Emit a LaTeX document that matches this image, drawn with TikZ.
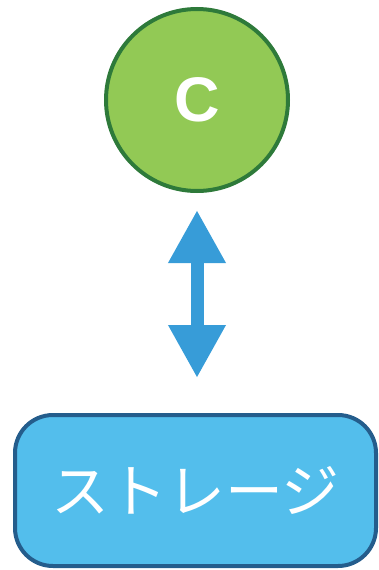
\documentclass[tikz,border=0pt]{standalone}
\usepackage{fontspec}
\setmainfont{Liberation Sans}
\newfontfamily\jpfont{Noto Sans CJK JP}
\usetikzlibrary{arrows.meta}
\definecolor{nodegreen}{HTML}{92C955}
\definecolor{nodegreenedge}{HTML}{2E7A3A}
\definecolor{linkblue}{HTML}{379CD8}
\definecolor{storefill}{HTML}{53BEEC}
\definecolor{storeedge}{HTML}{245D8C}
\tikzset{
  clientnode/.style={circle, draw=nodegreenedge, fill=nodegreen, line width=4pt,
    minimum size=182pt, inner sep=0pt, text=white, font=\bfseries\fontsize{63}{63}\selectfont},
  storenode/.style={rectangle, rounded corners=38pt, draw=storeedge, fill=storefill,
    line width=4pt, minimum width=361pt, minimum height=151pt, inner sep=0pt,
    text=white, font=\jpfont\fontsize{58}{58}\selectfont},
  link/.style={draw=linkblue, line width=13pt,
    {Triangle[width=54pt,length=53pt]}-{Triangle[width=54pt,length=53pt]}}
}
\begin{document}
\begin{tikzpicture}[x=1pt,y=-1pt]
  \useasboundingbox (0,0) rectangle (379,570);
  \node[clientnode] (c) at (197,100) {C};
  \node[storenode] (s) at (195.5,490.5) {ストレージ};
  \coordinate (top) at (197,210);
  \coordinate (bot) at (197,378);
  \draw[link] (top) -- (bot);
\end{tikzpicture}
\end{document}
